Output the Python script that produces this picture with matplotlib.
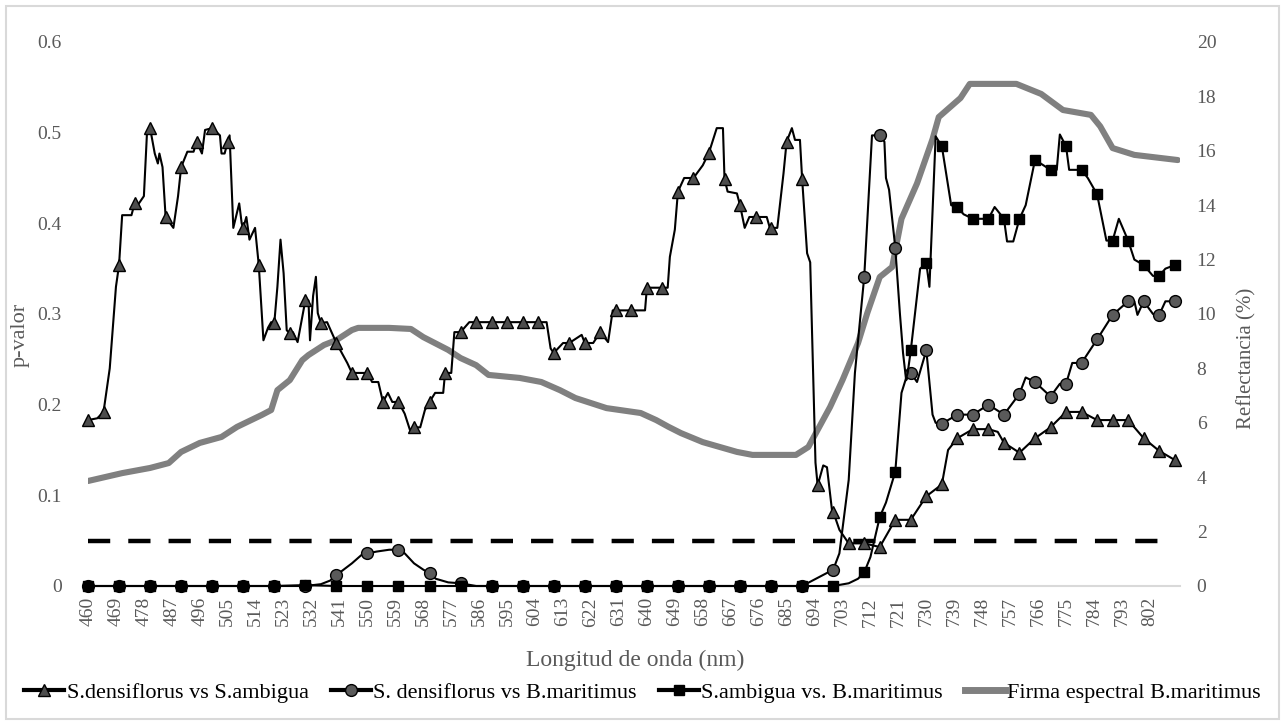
import matplotlib
matplotlib.use('Agg')
import matplotlib.pyplot as plt
from matplotlib.lines import Line2D
from matplotlib.patches import Rectangle

plt.rcParams['font.family'] = ['Liberation Serif', 'DejaVu Serif']
plt.rcParams['lines.scale_dashes'] = False

# ---------------- data ----------------
# S.densiflorus vs S.ambigua (triangles)
wl_sa = [460, 463, 465, 467, 469, 470, 471, 474, 475, 476, 478, 479, 480, 481.5, 482.5, 483, 484, 485,
         487.5, 489, 490, 492, 494, 495, 496.7, 497.7, 500, 502.5, 503, 504, 505, 505.6, 506.8, 508.7,
         509.5, 510, 511, 512, 513.8, 515, 516.5, 518, 519, 520, 521, 522, 523, 524, 525, 526, 527.5,
         529, 530, 531, 531.5, 532.5, 533.4, 534, 535, 537, 540, 543.5, 545, 550, 551.5, 553.5, 555,
         556.6, 558, 560, 562, 563.7, 565, 567, 568.5, 570, 571.8, 574.4, 575, 577, 578, 580, 582.8,
         585, 590, 595, 600, 605, 607.7, 609, 610, 613, 615, 619, 620, 622.7, 625, 627.5, 629, 630,
         635, 639.4, 640, 645, 646.7, 647.4, 649, 650, 652, 655, 658, 660, 662.5, 664.5, 665, 666,
         669, 670, 671.5, 673, 675, 678.6, 679.6, 680, 682, 684, 685, 686.7, 687.7, 689.3, 690, 691.6,
         692.6, 694.3, 695, 696.8, 698, 699.6, 700, 702, 705, 710, 715, 717, 720, 725, 730, 735, 737,
         740, 745, 750, 753, 755, 760, 765, 770, 775, 780, 785, 790, 795, 800, 805, 810]
p_sa = [0.183, 0.185, 0.192, 0.24, 0.33, 0.354, 0.409, 0.409, 0.422, 0.42, 0.43, 0.50, 0.505, 0.477,
        0.466, 0.477, 0.462, 0.407, 0.395, 0.43, 0.462, 0.479, 0.479, 0.490, 0.477, 0.503, 0.505,
        0.497, 0.477, 0.477, 0.490, 0.497, 0.395, 0.422, 0.40, 0.395, 0.407, 0.382, 0.395, 0.354,
        0.271, 0.285, 0.291, 0.290, 0.33, 0.382, 0.345, 0.282, 0.279, 0.28, 0.269, 0.297, 0.315,
        0.315, 0.271, 0.32, 0.341, 0.301, 0.290, 0.291, 0.268, 0.246, 0.235, 0.235, 0.225, 0.225,
        0.203, 0.213, 0.203, 0.203, 0.19, 0.172, 0.175, 0.175, 0.194, 0.203, 0.213, 0.213, 0.235,
        0.235, 0.28, 0.280, 0.291, 0.291, 0.291, 0.291, 0.291, 0.291, 0.291, 0.262, 0.257, 0.268,
        0.268, 0.277, 0.268, 0.268, 0.280, 0.269, 0.304, 0.304, 0.304, 0.304, 0.329, 0.329, 0.329,
        0.363, 0.393, 0.435, 0.450, 0.450, 0.464, 0.478, 0.505, 0.505, 0.449, 0.435, 0.433, 0.420,
        0.395, 0.407, 0.407, 0.407, 0.395, 0.395, 0.395, 0.455, 0.490, 0.505, 0.492, 0.492, 0.449,
        0.367, 0.357, 0.136, 0.111, 0.133, 0.131, 0.084, 0.082, 0.062, 0.047, 0.047, 0.043, 0.055,
        0.073, 0.073, 0.099, 0.112, 0.15, 0.163, 0.173, 0.173, 0.17, 0.158, 0.147, 0.163, 0.175,
        0.192, 0.192, 0.183, 0.183, 0.183, 0.163, 0.149, 0.139]
mk_sa = list(range(460, 811, 5))

# S. densiflorus vs B.maritimus (circles)
wl_sb = [460, 470, 480, 490, 500, 510, 520, 530, 535, 538, 540, 545, 548, 550, 553, 557, 560, 562,
         565, 568, 570, 572, 576, 580, 585, 590, 600, 610, 620, 630, 640, 650, 660, 670, 680, 690,
         700, 702, 705, 707, 710, 712.5, 715, 716.5, 717, 718, 720, 721.5, 722.5, 723.5, 725, 727,
         730, 732, 733, 735, 740, 745, 750, 755, 760, 762, 765, 770, 773, 775, 777, 780, 785, 790,
         795, 797, 798, 800, 803, 805, 807, 810]
p_sb = [0, 0, 0, 0, 0, 0, 0, 0, 0.002, 0.006, 0.012, 0.025, 0.034, 0.036, 0.038, 0.040, 0.040, 0.036,
        0.025, 0.018, 0.014, 0.008, 0.004, 0.003, 0.0, 0, 0, 0, 0, 0, 0, 0, 0, 0, 0, 0,
        0.018, 0.036, 0.117, 0.235, 0.341, 0.497, 0.497, 0.49, 0.45, 0.437, 0.373, 0.30, 0.257,
        0.227, 0.235, 0.225, 0.260, 0.189, 0.18, 0.179, 0.189, 0.189, 0.200, 0.189, 0.212, 0.23,
        0.225, 0.209, 0.223, 0.223, 0.246, 0.246, 0.272, 0.299, 0.314, 0.314, 0.299, 0.314, 0.30,
        0.299, 0.314, 0.314]
mk_sb = list(range(460, 701, 10)) + list(range(710, 811, 5))

# S.ambigua vs. B.maritimus (squares)
wl_ab = [460, 470, 480, 490, 500, 510, 520, 530, 540, 550, 560, 570, 580, 590, 600, 610, 620, 630,
         640, 650, 660, 670, 680, 690, 700, 705, 708, 710, 712, 715, 717, 720, 722, 724, 725, 728,
         730, 731, 733, 735, 738, 740, 742, 745, 748, 750, 752, 755, 756, 758, 760, 762, 765, 770,
         772, 773, 775, 776, 780, 782, 785, 788, 790, 792, 795, 797, 800, 803, 805, 807, 810]
p_ab = [0, 0, 0, 0, 0, 0, 0, 0.001, 0, 0, 0, 0, 0, 0, 0, 0, 0, 0, 0, 0, 0, 0, 0, 0, 0,
        0.003, 0.008, 0.015, 0.032, 0.076, 0.092, 0.126, 0.213, 0.235, 0.260, 0.35, 0.356, 0.33,
        0.496, 0.485, 0.42, 0.418, 0.41, 0.405, 0.405, 0.405, 0.418, 0.405, 0.38, 0.38, 0.405,
        0.42, 0.470, 0.459, 0.459, 0.498, 0.485, 0.459, 0.459, 0.45, 0.432, 0.381, 0.381, 0.405,
        0.381, 0.360, 0.354, 0.342, 0.342, 0.35, 0.354]
mk_ab = list(range(460, 701, 10)) + list(range(710, 811, 5))

# Firma espectral B.maritimus (reflectance %)
wl_ref = [460, 471, 480, 486, 490, 496, 503, 508, 516, 519, 521, 525, 529, 531, 536, 540, 545, 547,
          557, 564, 568, 576, 580, 585, 589, 599, 606, 612, 617, 627, 638, 643, 647, 651, 658, 669,
          674, 688, 692, 695, 699, 703, 708, 711, 715, 719, 722, 727, 732, 734, 741, 744, 759, 767,
          774, 783, 786, 790, 797, 811]
r_ref = [3.86, 4.15, 4.34, 4.52, 4.93, 5.26, 5.48, 5.85, 6.29, 6.47, 7.2, 7.57, 8.3, 8.49, 8.86,
         9.04, 9.41, 9.49, 9.49, 9.45, 9.15, 8.68, 8.38, 8.12, 7.76, 7.65, 7.5, 7.2, 6.91, 6.54,
         6.36, 6.1, 5.85, 5.62, 5.29, 4.93, 4.82, 4.82, 5.11, 5.74, 6.58, 7.57, 8.93, 10.04, 11.36,
         11.73, 13.5, 14.8, 16.43, 17.24, 17.94, 18.46, 18.46, 18.09, 17.5, 17.32, 16.9, 16.1,
         15.85, 15.66]

threshold = 0.05
labels = ['S.densiflorus vs S.ambigua', 'S. densiflorus vs B.maritimus',
          'S.ambigua vs. B.maritimus', 'Firma espectral B.maritimus']
xticks = list(range(460, 803, 9))

# ---------------- figure ----------------
W, H = 1285, 724
fig = plt.figure(figsize=(W / 100, H / 100), dpi=100)
L, R, B, T = 88, 1180, 586, 42
ax = fig.add_axes([L / W, 1 - B / H, (R - L) / W, (B - T) / H])
ax2 = ax.twinx()
ax.set_zorder(ax2.get_zorder() + 1)
ax.patch.set_visible(False)

tick_col = '#595959'


def idx(wl, marks):
    return [i for i, w in enumerate(wl) if w in marks]


ax2.plot(wl_ref, r_ref, color='#808080', lw=4.4, solid_joinstyle='round', solid_capstyle='round', zorder=2)

ax.plot([460, 810], [threshold, threshold], color='black', lw=3.2, dashes=(16, 13), zorder=2)

ax.plot(wl_sa, p_sa, color='black', lw=1.5, marker='^', markevery=idx(wl_sa, mk_sa), clip_on=False,
        markersize=8.5, markerfacecolor='#4d4d4d', markeredgecolor='black', markeredgewidth=1.0, zorder=3)
ax.plot(wl_sb, p_sb, color='black', lw=1.5, marker='o', markevery=idx(wl_sb, mk_sb), clip_on=False,
        markersize=8.5, markerfacecolor='#5a5a5a', markeredgecolor='black', markeredgewidth=1.0, zorder=4)
ax.plot(wl_ab, p_ab, color='black', lw=1.5, marker='s', markevery=idx(wl_ab, mk_ab), clip_on=False,
        markersize=7.8, markerfacecolor='black', markeredgecolor='black', zorder=5)

ax.set_xlim(460, 811.7)
ax.set_ylim(0, 0.6)
ax2.set_ylim(0, 20)
ax.set_xticks(xticks)
ax.set_xticklabels([str(t) for t in xticks], rotation=90)
ax.set_yticks([0, 0.1, 0.2, 0.3, 0.4, 0.5, 0.6])
ax.set_yticklabels(['0', '0.1', '0.2', '0.3', '0.4', '0.5', '0.6'])
ax2.set_yticks(list(range(0, 21, 2)))

for a in (ax, ax2):
    for s in a.spines.values():
        s.set_visible(False)
ax.spines['bottom'].set_visible(True)
ax.spines['bottom'].set_color('#d9d9d9')
ax.spines['bottom'].set_linewidth(1.5)

ax.tick_params(axis='x', length=0, pad=8, labelsize=14, labelcolor=tick_col)
ax.tick_params(axis='y', length=0, pad=19, labelsize=14, labelcolor=tick_col)
ax2.tick_params(axis='y', length=0, pad=12, labelsize=14, labelcolor=tick_col)

fig.text(20 / W, 1 - 335 / H, 'p-valor', rotation=90, ha='center', va='center', fontsize=16, color=tick_col)
fig.text(1247 / W, 1 - 358 / H, 'Reflectancia (%)', rotation=90, ha='center', va='center', fontsize=15, color=tick_col)
fig.text(635 / W, 1 - 660 / H, 'Longitud de onda (nm)', ha='center', va='center', fontsize=17, color=tick_col)

handles = [
    Line2D([], [], color='black', lw=3, marker='^', markersize=8.5, markerfacecolor='#4d4d4d', markeredgecolor='black'),
    Line2D([], [], color='black', lw=3, marker='o', markersize=8.5, markerfacecolor='#5a5a5a', markeredgecolor='black'),
    Line2D([], [], color='black', lw=3, marker='s', markersize=7.8, markerfacecolor='black', markeredgecolor='black'),
    Line2D([], [], color='#808080', lw=5),
]
fig.legend(handles, labels, loc='center', bbox_to_anchor=(0.5, 1 - 693 / H), ncol=4, frameon=False,
           fontsize=16, handlelength=1.8, handletextpad=0.1, columnspacing=1.0)

fig.patches.append(Rectangle((6 / W, 5 / H), 1273 / W, 713 / H, transform=fig.transFigure,
                             fill=False, edgecolor='#d9d9d9', lw=1.5))

fig.savefig('out.png', dpi=100)
